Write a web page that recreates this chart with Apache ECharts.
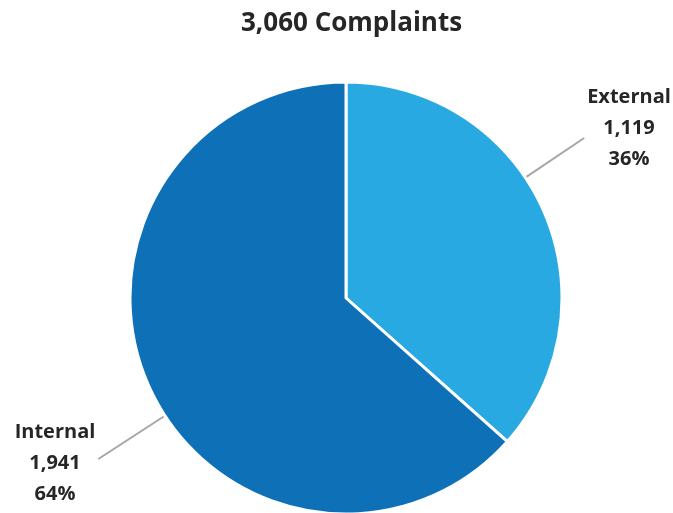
<!DOCTYPE html>
<html>
<head>
<meta charset="utf-8">
<script src="https://cdn.jsdelivr.net/npm/echarts@6/dist/echarts.min.js"></script>
<style>html,body{margin:0;padding:0;background:#fff;}#c{width:673px;height:513px;}</style>
</head>
<body>
<div id="c"></div>
<script>
const titleText = '3,060 Complaints';
const categories = ['External', 'Internal'];
const values = [1119, 1941];
const percentLabels = ['36%', '64%'];
const colors = ['#29A9E1', '#0E71B8'];

// layout (pixels)
const CX = 346, CY = 298, R = 216;
// label centre positions and where the leader line meets the label (offsets from label box)
const labelSpots = [
  { x: 629, y: 128, side: -1, ey: 10 },
  { x: 55, y: 463, side: 1, ey: -4 }
];

const chart = echarts.init(document.getElementById('c'), null, { renderer: 'canvas' });

const data = categories.map((n, i) => ({
  name: n,
  value: values[i],
  itemStyle: { color: colors[i] }
}));

chart.setOption({
  animation: false,
  backgroundColor: '#ffffff',
  title: {
    text: titleText,
    left: 236,
    top: 6,
    textStyle: { fontFamily: 'Open Sans', fontWeight: 'bold', fontSize: 26, color: '#262626' }
  },
  series: [{
    type: 'pie',
    center: [CX, CY],
    radius: R,
    startAngle: 90,
    clockwise: true,
    data: data,
    itemStyle: { borderColor: '#ffffff', borderWidth: 3 },
    label: {
      show: true,
      position: 'outside',
      fontFamily: 'Open Sans',
      fontWeight: 'bold',
      fontSize: 20,
      lineHeight: 31,
      color: '#262626',
      formatter: p => p.name + '\n' + p.value.toLocaleString('en-US') + '\n' + percentLabels[p.dataIndex]
    },
    labelLine: {
      show: true,
      length: 20,
      length2: 0,
      lineStyle: { color: '#A6A6A6', width: 2 }
    },
    labelLayout: function (p) {
      const s = labelSpots[p.dataIndex];
      const w = p.labelRect.width;
      const ex = s.x + s.side * (w / 2 + 3);
      const ey = s.y + s.ey;
      const dx = ex - CX, dy = ey - CY;
      const d = Math.sqrt(dx * dx + dy * dy);
      const sx = CX + R * dx / d, sy = CY + R * dy / d;
      return {
        x: s.x, y: s.y, align: 'center', verticalAlign: 'middle',
        labelLinePoints: [[sx, sy], [ex, ey]]
      };
    }
  }]
});
</script>
</body>
</html>
